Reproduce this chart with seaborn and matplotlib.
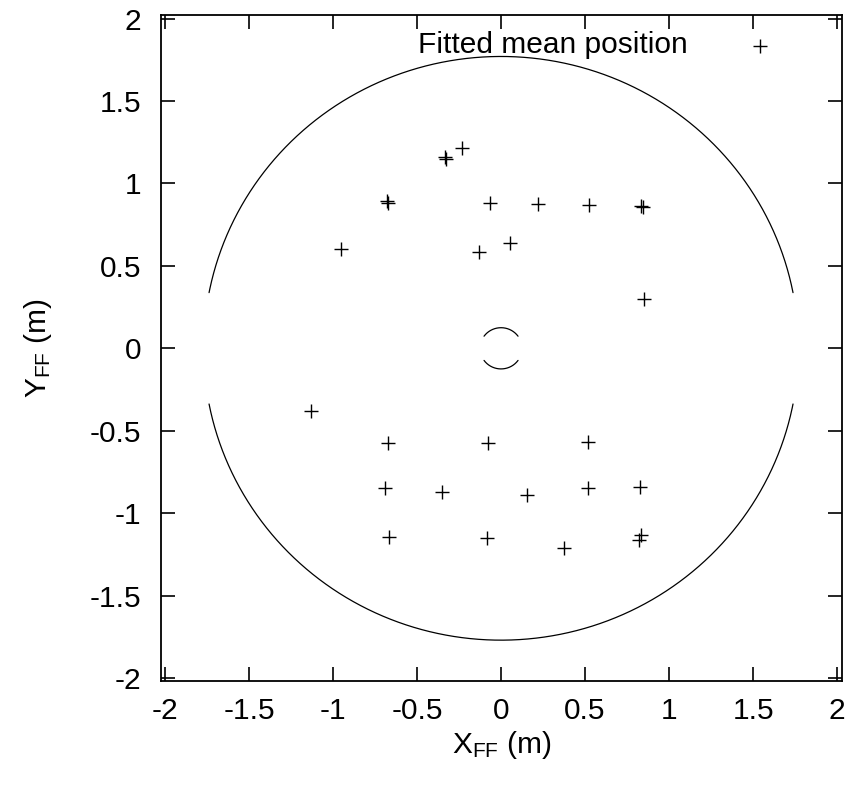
import numpy as np
import pandas as pd
import matplotlib
matplotlib.use("Agg")
import matplotlib.pyplot as plt
import seaborn as sns

# ==========================================
# DATA
# ==========================================

x_pos = [
    -0.335, -0.325, -0.232,
    -0.680, -0.675, -0.064, 0.222, 0.522, 0.830, 0.845,
    -0.954, -0.131, 0.052,
    0.849,
    -1.129,
    -0.671, -0.077, 0.516,
    -0.690, -0.353, 0.155, 0.520, 0.827,
    -0.667, -0.083, 0.373, 0.830, 0.820,
]
y_pos = [
    1.160, 1.150, 1.212,
    0.895, 0.880, 0.883, 0.875, 0.867, 0.865, 0.858,
    0.600, 0.584, 0.636,
    0.297,
    -0.378,
    -0.572, -0.572, -0.566,
    -0.848, -0.869, -0.889, -0.848, -0.842,
    -1.142, -1.152, -1.212, -1.135, -1.165,
]

# detector outline: outer radius and inner hole radius, gaps in degrees
outer_radius = 1.77
outer_gap = 11.0
inner_radius = 0.125
inner_gap = 36.0

df = pd.DataFrame({"x": x_pos, "y": y_pos})

# ==========================================
# STYLE
# ==========================================

sns.set_style("ticks")
plt.rcParams["font.family"] = ["Liberation Sans", "DejaVu Sans"]
plt.rcParams["mathtext.default"] = "regular"
plt.rcParams["axes.unicode_minus"] = False
plt.rcParams["text.color"] = "black"
plt.rcParams["axes.labelcolor"] = "black"

FS = 21.5

fig = plt.figure(figsize=(8.55, 7.85), dpi=100)
ax = fig.add_axes([0.188, 0.132, 0.797, 0.849])


def arc(radius, a0, a1):
    t = np.radians(np.linspace(a0, a1, 200))
    return radius * np.cos(t), radius * np.sin(t)


for a0, a1 in [(outer_gap, 180 - outer_gap), (180 + outer_gap, 360 - outer_gap)]:
    cx, cy = arc(outer_radius, a0, a1)
    ax.plot(cx, cy, color="black", linewidth=0.9)

for a0, a1 in [(inner_gap, 180 - inner_gap), (180 + inner_gap, 360 - inner_gap)]:
    cx, cy = arc(inner_radius, a0, a1)
    ax.plot(cx, cy, color="black", linewidth=0.9)

sns.scatterplot(
    data=df,
    x="x",
    y="y",
    marker="+",
    s=100,
    color="black",
    linewidth=1.0,
    label="Fitted mean position",
    ax=ax,
)

ax.set_xlim(-2.025, 2.03)
ax.set_ylim(-2.02, 2.022)
ticks = [-2, -1.5, -1, -0.5, 0, 0.5, 1, 1.5, 2]
tick_labels = ["-2", "-1.5", "-1", "-0.5", "0", "0.5", "1", "1.5", "2"]
ax.set_xticks(ticks)
ax.set_yticks(ticks)
ax.set_xticklabels(tick_labels)
ax.set_yticklabels(tick_labels)

ax.tick_params(direction="in", length=10, width=1.2, labelsize=FS,
               top=True, right=True, color="black", labelcolor="black")
ax.tick_params(axis="x", pad=11)
ax.tick_params(axis="y", pad=14)
for sp in ax.spines.values():
    sp.set_linewidth(1.3)
    sp.set_color("black")

ax.set_xlabel("X$_{FF}$ (m)", fontsize=FS, labelpad=3, color="black")
ax.set_ylabel("Y$_{FF}$ (m)", fontsize=FS, labelpad=26, color="black")

leg = ax.legend(loc="upper right", frameon=False, markerfirst=False,
                fontsize=FS, handletextpad=1.4, borderaxespad=0.15,
                bbox_to_anchor=(0.947, 1.0))
for t in leg.get_texts():
    t.set_color("black")

plt.savefig("out.png", dpi=100)
